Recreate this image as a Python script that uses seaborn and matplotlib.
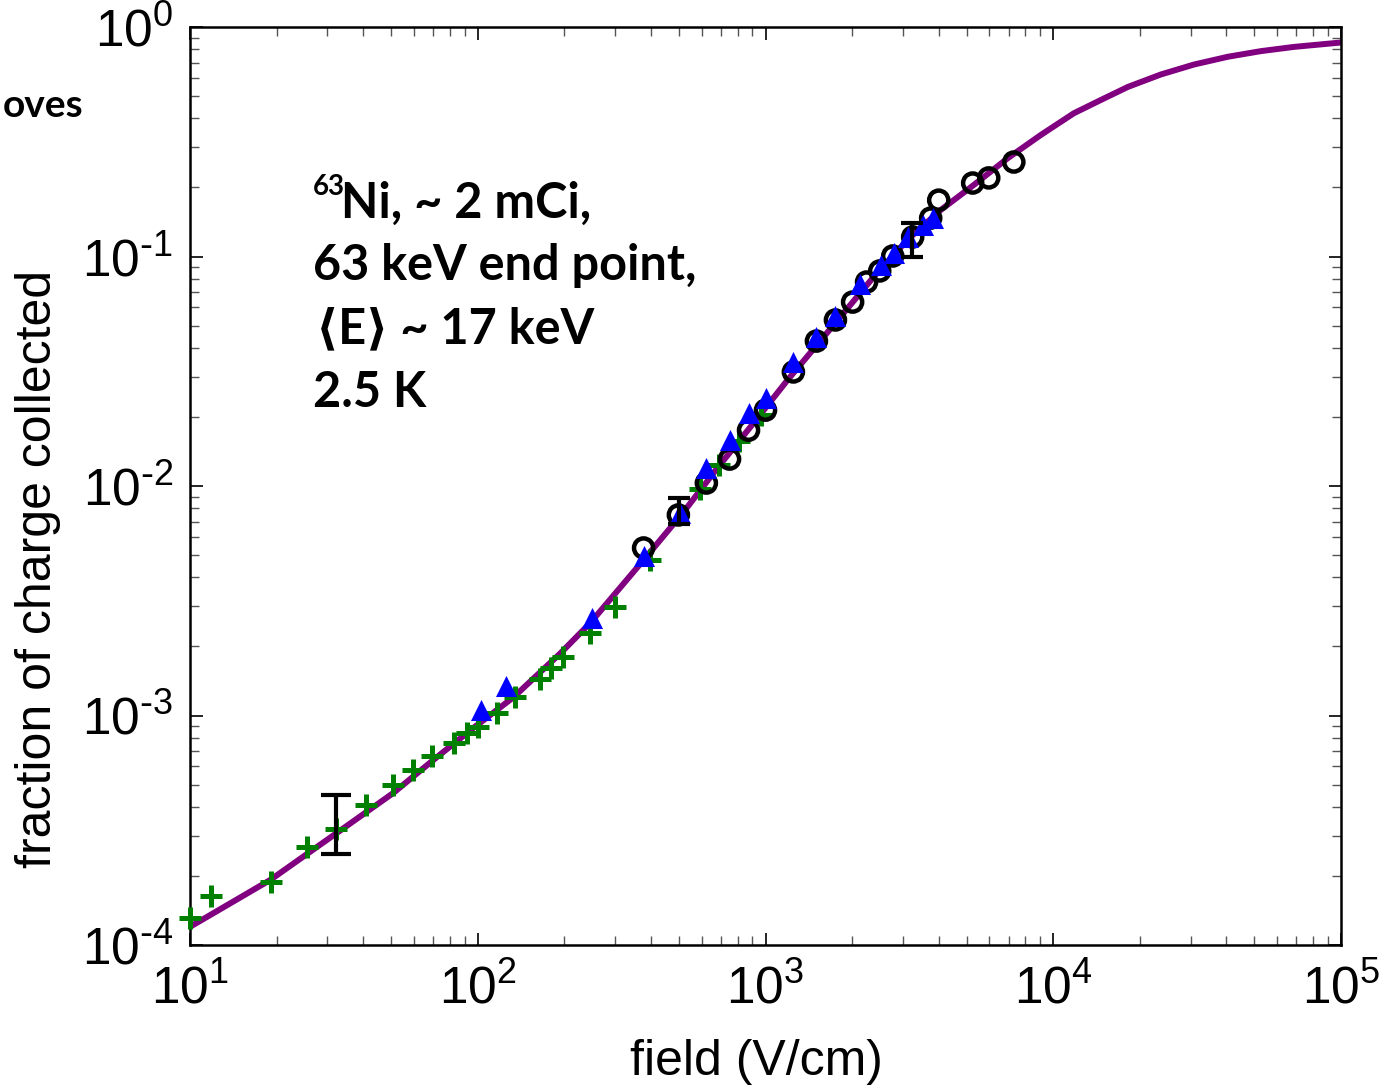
import numpy as np
import pandas as pd
import matplotlib
matplotlib.use('Agg')
import matplotlib.pyplot as plt
import matplotlib.ticker as mticker
import seaborn as sns

# Courbe du modèle
curve_field = [10, 19, 32.4, 50.8, 70.1, 96.6, 133, 194, 246, 377, 519, 681, 887,
               1194, 1824, 2375, 3111, 4062, 5290, 6945, 9049, 11785, 14630, 18160,
               23650, 30810, 40460, 52700, 68630, 100000]
curve_frac = [1.2e-4, 1.92e-4, 3.08e-4, 4.59e-4, 6.4e-4, 8.83e-4, 1.2e-3, 1.87e-3,
              2.53e-3, 4.76e-3, 7.7e-3, 1.2e-2, 1.81e-2, 2.9e-2, 0.0547, 0.0814,
              0.118, 0.1594, 0.2048, 0.268, 0.3384, 0.4207, 0.4807, 0.548, 0.621,
              0.686, 0.742, 0.785, 0.819, 0.856]

# Série 1 : croix vertes
plus_field = [10, 11.8, 19.1, 25.5, 32.2, 40.9, 50.8, 59.7, 69.5, 82.8, 91.9, 100.4,
              117, 135, 165, 179, 198, 246, 301, 398, 594, 687, 806, 961]
plus_frac = [1.31e-4, 1.64e-4, 1.88e-4, 2.67e-4, 3.2e-4, 4.07e-4, 4.98e-4, 5.8e-4,
             6.67e-4, 7.6e-4, 8.4e-4, 8.9e-4, 1.03e-3, 1.2e-3, 1.44e-3, 1.61e-3,
             1.8e-3, 2.29e-3, 2.97e-3, 4.76e-3, 9.7e-3, 1.24e-2, 1.57e-2, 2.04e-2]

# Série 2 : triangles bleus
tri_field = [103, 125, 250, 377, 506, 623, 750, 873, 1000, 1250, 1503, 1750, 2138,
             2512, 2788, 3119, 3515, 3808]
tri_frac = [1.06e-3, 1.35e-3, 2.66e-3, 4.95e-3, 7.6e-3, 1.2e-2, 1.58e-2, 2.08e-2,
            2.42e-2, 3.47e-2, 4.46e-2, 5.5e-2, 7.6e-2, 9.2e-2, 0.1035, 0.1216, 0.137, 0.147]

# Série 3 : cercles noirs
circ_field = [377, 498, 623, 750, 873, 1000, 1250, 1503, 1750, 2008, 2245, 2494, 2768,
              3247, 3750, 3999, 5248, 5968, 7295]
circ_frac = [5.37e-3, 7.48e-3, 1.03e-2, 1.31e-2, 1.75e-2, 2.14e-2, 3.14e-2, 4.28e-2,
             5.29e-2, 6.33e-2, 7.74e-2, 8.65e-2, 0.1005, 0.1216, 0.147, 0.176, 0.209,
             0.22, 0.258]

# Barres d'erreur
err_field = [32.1, 502, 3221]
err_low = [2.49e-4, 6.83e-3, 0.0995]
err_high = [4.51e-4, 8.87e-3, 0.14]

sns.set_style('ticks')
plt.rcParams['font.family'] = ['Liberation Sans', 'DejaVu Sans']
plt.rcParams['axes.unicode_minus'] = False
plt.rcParams['text.color'] = 'black'
plt.rcParams['axes.labelcolor'] = 'black'
plt.rcParams['xtick.color'] = 'black'
plt.rcParams['ytick.color'] = 'black'

W, H = 1384, 1089
fig = plt.figure(figsize=(W / 100, H / 100), dpi=100)
ax = fig.add_axes([190 / W, (H - 945) / H, (1341 - 190) / W, (945 - 27) / H])
ax.set_xscale('log')
ax.set_yscale('log')

sns.lineplot(x=curve_field, y=curve_frac, ax=ax, color='#800080', linewidth=4.3,
             estimator=None, sort=False, zorder=2)
sns.scatterplot(x=plus_field, y=plus_frac, ax=ax, marker='+', color='#008000',
                s=270, linewidth=3.6, zorder=3, clip_on=False)
ax.scatter(circ_field, circ_frac, marker='o', s=190, facecolors='none',
           edgecolors='black', linewidths=3.2, zorder=4, clip_on=False)
sns.scatterplot(x=tri_field, y=tri_frac, ax=ax, marker='^', color='#0000ff',
                s=230, linewidth=0, zorder=5, clip_on=False)

err_mid = np.sqrt(np.array(err_low) * np.array(err_high))
lo = err_mid - np.array(err_low)
hi = np.array(err_high) - err_mid
ax.errorbar(err_field[:1], err_mid[:1], yerr=[lo[:1], hi[:1]], fmt='none',
            ecolor='black', elinewidth=3, capsize=11, capthick=3, zorder=6)
ax.errorbar(err_field[1:], err_mid[1:], yerr=[lo[1:], hi[1:]], fmt='none',
            ecolor='black', elinewidth=3, capsize=8, capthick=3, zorder=6)

ax.set_xlim(10, 1e5)
ax.set_ylim(1e-4, 1)


def log_label(v, pos):
    e = int(round(np.log10(v)))
    if e < 0:
        return r'$\mathdefault{10^{\text{-}%d}}$' % (-e)
    return r'$\mathdefault{10^{%d}}$' % e


ax.xaxis.set_major_formatter(mticker.FuncFormatter(log_label))
ax.yaxis.set_major_formatter(mticker.FuncFormatter(log_label))

for side in ['top', 'right', 'bottom', 'left']:
    ax.spines[side].set_visible(True)
    ax.spines[side].set_linewidth(1.8)
    ax.spines[side].set_color('black')
ax.tick_params(which='both', direction='in', top=True, right=True)
ax.tick_params(which='major', length=9, width=1.2, labelsize=37, pad=14,
               color='black', labelcolor='black')
ax.tick_params(which='minor', length=6.5, width=1.0, color='#555555')
ax.tick_params(axis='y', which='major', pad=12)

ax.set_xlabel('field (V/cm)', fontsize=36, color='black')
ax.set_ylabel('fraction of charge collected', fontsize=36, color='black')
ax.xaxis.set_label_coords(0.492, -0.102)
ax.yaxis.set_label_coords(-0.112, 0.41)

txt_font = ['Lato', 'DejaVu Sans']


def px(x, y):
    return x / W, 1 - y / H


fig.text(*px(313, 195), '63', fontsize=20, fontweight='bold', family=txt_font, va='baseline', color='black')
fig.text(*px(341, 218), 'Ni, ~ 2 mCi,', fontsize=35, fontweight='bold', family=txt_font, va='baseline', color='black')
fig.text(*px(313, 280), '63 keV end point,', fontsize=35, fontweight='bold', family=txt_font, va='baseline', color='black')
fig.text(*px(316, 343), '\u27e8E\u27e9 ~ 17 keV', fontsize=35, fontweight='bold', family=txt_font, va='baseline', color='black')
fig.text(*px(313, 407), '2.5 K', fontsize=35, fontweight='bold', family=txt_font, va='baseline', color='black')
fig.text(*px(83, 117), 'oves', fontsize=28, fontweight='bold', family=txt_font, va='baseline', ha='right', color='black')

fig.savefig('out.png', dpi=100)
